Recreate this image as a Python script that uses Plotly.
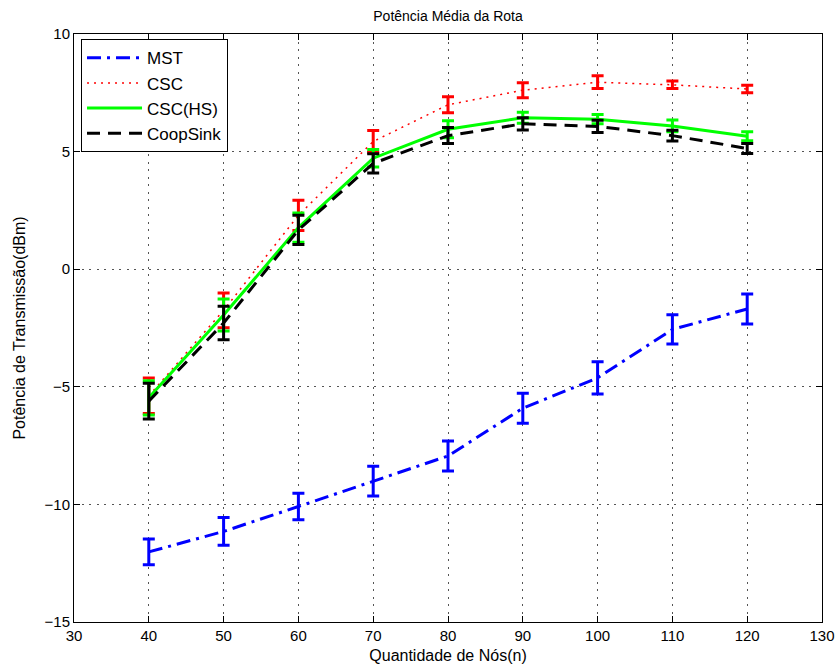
import plotly.graph_objects as go

nodes = [40, 50, 60, 70, 80, 90, 100, 110, 120]

mst = [-12.02, -11.15, -10.09, -9.01, -7.94, -5.91, -4.62, -2.56, -1.69]
mst_err = [0.55, 0.59, 0.56, 0.63, 0.64, 0.64, 0.69, 0.62, 0.64]

csc = [-5.38, -1.75, 2.29, 5.43, 6.99, 7.61, 7.95, 7.84, 7.66]
csc_err = [0.75, 0.74, 0.64, 0.47, 0.34, 0.32, 0.27, 0.16, 0.16]

csc_hs = [-5.47, -1.95, 1.77, 4.72, 5.95, 6.44, 6.38, 6.09, 5.65]
csc_hs_err = [0.73, 0.68, 0.62, 0.37, 0.36, 0.23, 0.20, 0.25, 0.19]

coop = [-5.61, -2.29, 1.67, 4.50, 5.68, 6.18, 6.07, 5.68, 5.13]
coop_err = [0.76, 0.71, 0.62, 0.41, 0.34, 0.26, 0.26, 0.23, 0.21]

series = [
    ("MST", mst, mst_err, "#0000ff", 3, "14px,6px,3px,6px"),
    ("CSC", csc, csc_err, "#ff0000", 1.5, "2px,5px"),
    ("CSC(HS)", csc_hs, csc_hs_err, "#00ff00", 3, "solid"),
    ("CoopSink", coop, coop_err, "#000000", 3, "13px,8px"),
]

fig = go.Figure()
for i, (name, ys, errs, color, w, dash) in enumerate(series):
    fig.add_trace(go.Scatter(
        x=nodes, y=ys, name=name, mode="lines",
        line=dict(color=color, width=w, dash=dash),
        error_y=dict(type="data", array=errs, visible=True,
                     color=color, thickness=3, width=6),
    ))

font = "Liberation Sans, Arial, Helvetica, sans-serif"
axis_common = dict(
    showline=True, linecolor="black", linewidth=1, mirror="ticks",
    ticks="inside", ticklen=6, tickcolor="black",
    showgrid=True, gridcolor="#555555", griddash="2px,5.5px", gridwidth=1,
    zeroline=False, automargin=False,
    tickfont=dict(family=font, size=15, color="black"),
)

fig.update_layout(
    width=836, height=668,
    margin=dict(l=74, r=14, t=34, b=46, autoexpand=False),
    paper_bgcolor="white", plot_bgcolor="white",
    font=dict(family=font, size=15, color="black"),
    title=dict(text="Potência Média da Rota", x=0.5, xref="paper",
               xanchor="center", y=1 - 16 / 668, yanchor="middle",
               yref="container",
               font=dict(family=font, size=14, color="black")),
    xaxis=dict(range=[30, 130], dtick=10, tick0=30,
               title=dict(text="Quantidade de Nós(n)", standoff=6,
                          font=dict(family=font, size=16)),
               **axis_common),
    yaxis=dict(range=[-15, 10], dtick=5, tick0=-15,
               title=dict(text="Potência de Transmissão(dBm)", standoff=14,
                          font=dict(family=font, size=16)),
               **axis_common),
    legend=dict(x=0.0094, y=0.991, xanchor="left", yanchor="top",
                bgcolor="white", bordercolor="black", borderwidth=1,
                font=dict(family=font, size=17, color="black"),
                itemwidth=55),
    showlegend=True,
)

fig.write_html("out.html",
               config={"displayModeBar": False},
               post_script="document.body.style.margin='0px';"
                           "document.documentElement.style.overflow='hidden';")
